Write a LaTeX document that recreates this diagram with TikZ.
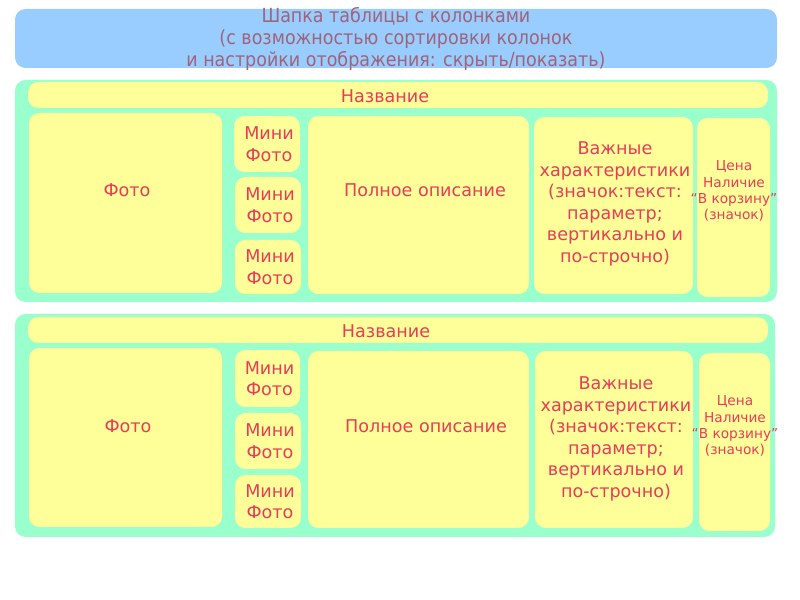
\documentclass[tikz,border=0pt]{standalone}
\usepackage{fontspec}
\setmainfont{DejaVu Sans}
\newfontfamily\condfont{DejaVu Sans Condensed}
\definecolor{hdrblue}{RGB}{153,204,255}
\definecolor{rowgreen}{RGB}{153,255,204}
\definecolor{cellyellow}{RGB}{255,255,153}
\definecolor{txtred}{RGB}{232,60,90}
\definecolor{hdrtxt}{RGB}{160,100,120}
\newcommand\rbox[7][]{%
  \node[#2, #1, minimum width={(#5-#3)*0.03cm}, minimum height={(#6-#4)*0.03cm}]
    (#7) at ({(#3+#5)/2},{(#4+#6)/2}) {};}
\tikzset{
  base/.style={inner sep=0pt, outer sep=0pt, rounded corners=9pt},
  hdr/.style={base, fill=hdrblue},
  row/.style={base, fill=rowgreen},
  cell/.style={base, fill=cellyellow},
  lbl/.style={text=txtred, align=center, font=\fontsize{15}{18.4}\selectfont, inner sep=0pt},
  small/.style={text=txtred, align=center, font=\fontsize{11.7}{13.8}\selectfont, inner sep=0pt},
  htxt/.style={text=hdrtxt, align=center, font=\condfont\fontsize{16.6}{18.8}\selectfont, inner sep=0pt}
}
\begin{document}
\begin{tikzpicture}[x=0.03cm, y=-0.03cm]
\useasboundingbox (0,0) rectangle (800,600);
% header
\rbox{hdr}{15}{9}{777}{68}{header}
\node[htxt] at (396,38.5) {Шапка таблицы с колонками\\(с возможностью сортировки колонок\\и настройки отображения: скрыть/показать)};
% row 1
\rbox{row}{15}{80}{777}{302}{rowA}
\rbox{cell}{28}{82}{768}{108}{nameA}
\rbox{cell}{29}{113}{222}{293}{photoA}
\rbox{cell}{234}{116}{300}{172}{miniA1}
\rbox{cell}{235}{177}{301}{233}{miniA2}
\rbox{cell}{235}{240}{301}{294}{miniA3}
\rbox{cell}{308}{116}{529}{294}{descA}
\rbox{cell}{534}{117}{693}{294}{featA}
\rbox{cell}{697}{118}{770}{297}{priceA}
\node[lbl] at (385,96) {Название};
\node[lbl] at (127,190) {Фото};
\node[lbl] at ([xshift=2*0.03cm]miniA1.center) {Мини\\Фото};
\node[lbl] at ([xshift=2*0.03cm]miniA2.center) {Мини\\Фото};
\node[lbl] at ([xshift=2*0.03cm]miniA3.center) {Мини\\Фото};
\node[lbl] at (425,190) {Полное описание};
\node[lbl] at (615,204) {Важные\\характеристики\\(значок:текст:\\параметр;\\вертикально и\\по-строчно)};
\node[small] at (734,191) {Цена\\Наличие\\“В корзину”\\(значок)};
% row 2
\rbox{row}{15}{314}{775}{537}{rowB}
\rbox{cell}{28}{317}{768}{343}{nameB}
\rbox{cell}{29}{348}{222}{527}{photoB}
\rbox{cell}{235}{350}{300}{407}{miniB1}
\rbox{cell}{235}{413}{301}{469}{miniB2}
\rbox{cell}{235}{475}{301}{528}{miniB3}
\rbox{cell}{308}{351}{529}{528}{descB}
\rbox{cell}{535}{351}{693}{528}{featB}
\rbox{cell}{699}{353}{770}{531}{priceB}
\node[lbl] at (386,331) {Название};
\node[lbl] at (128,426) {Фото};
\node[lbl] at ([xshift=2*0.03cm]miniB1.center) {Мини\\Фото};
\node[lbl] at ([xshift=2*0.03cm]miniB2.center) {Мини\\Фото};
\node[lbl] at ([xshift=2*0.03cm]miniB3.center) {Мини\\Фото};
\node[lbl] at (426,426) {Полное описание};
\node[lbl] at (616,439) {Важные\\характеристики\\(значок:текст:\\параметр;\\вертикально и\\по-строчно)};
\node[small] at (735,426) {Цена\\Наличие\\“В корзину”\\(значок)};
\end{tikzpicture}
\end{document}
